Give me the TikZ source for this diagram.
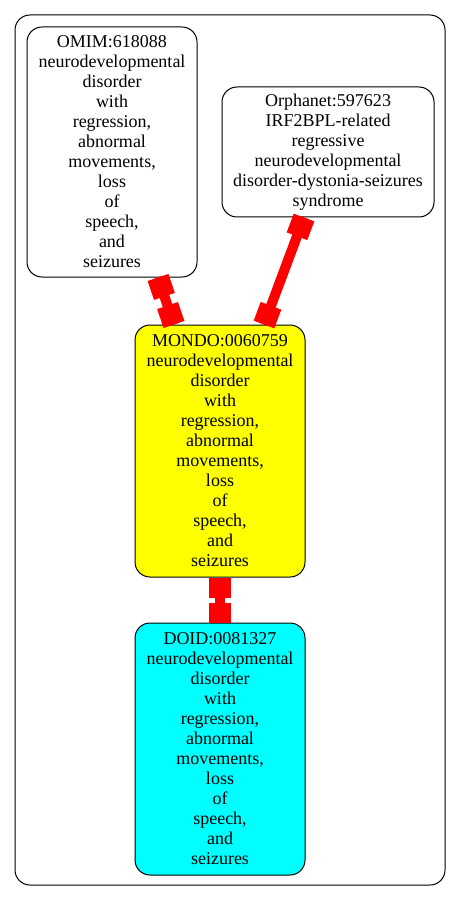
\documentclass[tikz,border=0pt]{standalone}
\usepackage{fontspec}
\setmainfont{Liberation Serif}
\usetikzlibrary{calc}
\definecolor{gvyellow}{RGB}{255,255,0}
\definecolor{gvcyan}{RGB}{0,255,255}
\definecolor{gvred}{RGB}{255,0,0}
\tikzset{
  termbox/.style={draw=black, line width=1pt, rounded corners=15pt, align=center, inner sep=0pt,
    font=\fontsize{18}{20}\selectfont, minimum width=170pt},
  edgeline/.style={draw=gvred, line width=10pt, line cap=butt},
  teebar/.style={draw=gvred, line width=22pt, line cap=butt},
  outerbox/.style={draw=black, line width=1pt, rounded corners=15pt}
}
\newcommand\teeedge[2]{%
  \draw[edgeline] (#1) -- (#2);
  \draw[teebar] (#1) -- ($(#1)!20pt!(#2)$);
  \draw[teebar] (#2) -- ($(#2)!20pt!(#1)$);
}
\begin{document}
\begin{tikzpicture}[x=1pt,y=-1pt]
\useasboundingbox (0,0) rectangle (461,901);
\draw[outerbox] (15,15) rectangle (445,885);
\node[termbox, minimum height=250pt] (omim) at (112,152)
  {OMIM:618088\\neurodevelopmental\\disorder\\with\\regression,\\abnormal\\movements,\\loss\\of\\speech,\\and\\seizures};
\node[termbox, minimum width=212pt, minimum height=130pt] (orpha) at (328,152)
  {Orphanet:597623\\IRF2BPL-related\\regressive\\neurodevelopmental\\disorder-dystonia-seizures\\syndrome};
\node[termbox, fill=gvyellow, minimum height=252pt] (mondo) at (220,451)
  {MONDO:0060759\\neurodevelopmental\\disorder\\with\\regression,\\abnormal\\movements,\\loss\\of\\speech,\\and\\seizures};
\node[termbox, fill=gvcyan, minimum height=252pt] (doid) at (220,749)
  {DOID:0081327\\neurodevelopmental\\disorder\\with\\regression,\\abnormal\\movements,\\loss\\of\\speech,\\and\\seizures};
\coordinate (e1a) at ([xshift=46pt]omim.south);
\coordinate (e1b) at ([xshift=-46pt]mondo.north);
\coordinate (e2a) at ([xshift=-24pt]orpha.south);
\coordinate (e2b) at ([xshift=44pt]mondo.north);
\teeedge{e1a}{e1b}
\teeedge{e2a}{e2b}
\teeedge{mondo.south}{doid.north}
\end{tikzpicture}
\end{document}
